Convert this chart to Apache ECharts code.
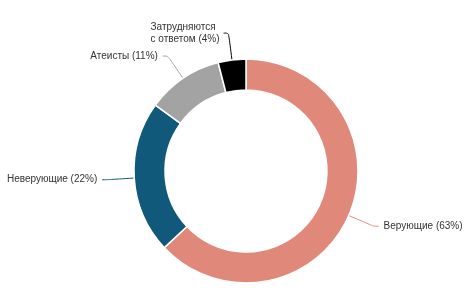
<!DOCTYPE html>
<html>
<head>
<meta charset="utf-8">
<script src="https://cdn.jsdelivr.net/npm/echarts@6/dist/echarts.min.js"></script>
<style>
  html, body { margin: 0; padding: 0; background: #fff; }
  #chart { width: 476px; height: 294px; }
</style>
</head>
<body>
<div id="chart"></div>
<script>
var names = ['Верующие', 'Неверующие', 'Атеисты', 'Затрудняются с ответом'];
var values = [63, 22, 11, 4];
var colors = ['#e0887a', '#11597a', '#a3a3a3', '#000000'];

var chart = echarts.init(document.getElementById('chart'));

var data = [];
for (var i = 0; i < names.length; i++) {
    data.push({ name: names[i], value: values[i], itemStyle: { color: colors[i] } });
}

var option = {
    animation: false,
    series: [
        {
            type: 'pie',
            center: [246, 171],
            radius: [81, 112],
            startAngle: 90,
            clockwise: true,
            avoidLabelOverlap: false,
            itemStyle: { borderColor: '#fff', borderWidth: 1.5 },
            label: {
                show: true,
                formatter: function (p) {
                    // длинную подпись разбиваем на две строки, выравнивая по левому краю
                    if (p.name.indexOf(' с ') > 0) {
                        var parts = p.name.split(' с ');
                        return '{l|' + parts[0] + '}\n{l|с ' + parts[1] + ' (' + p.value + '%)}';
                    }
                    return p.name + ' (' + p.value + '%)';
                },
                fontFamily: 'Liberation Sans, Arial, sans-serif',
                fontSize: 10,
                color: '#333',
                lineHeight: 12,
                rich: {
                    l: { width: 68, align: 'left', fontSize: 10, lineHeight: 12, color: '#333',
                         fontFamily: 'Liberation Sans, Arial, sans-serif' }
                }
            },
            labelLine: {
                show: true,
                length: 27,
                length2: 5,
                smooth: true,
                lineStyle: { width: 1 }
            },
            emphasis: { disabled: true },
            data: data
        }
    ]
};

chart.setOption(option);
</script>
</body>
</html>
